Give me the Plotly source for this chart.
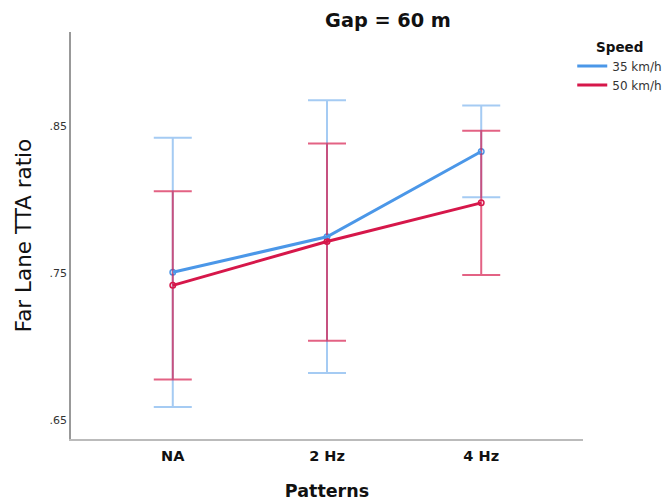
import plotly.graph_objects as go

categories = ["NA", "2 Hz", "4 Hz"]
speed_labels = ["35 km/h", "50 km/h"]

mean_35 = [0.7507, 0.7748, 0.8328]
upper_35 = [0.8421, 0.8677, 0.8641]
lower_35 = [0.6591, 0.6822, 0.8017]

mean_50 = [0.7418, 0.7716, 0.7979]
upper_50 = [0.8058, 0.8382, 0.8469]
lower_50 = [0.6777, 0.7042, 0.7489]

y_ticks = [0.65, 0.75, 0.85]
y_tick_text = [".65", ".75", ".85"]

blue = "#4B97E8"
red = "#D6174A"
FONT = "DejaVu Sans, Verdana, sans-serif"

fig = go.Figure()


def add_errors(mean, upper, lower, err_color, color):
    fig.add_trace(go.Scatter(
        x=categories, y=mean, mode="markers", showlegend=False, hoverinfo="skip",
        marker=dict(symbol="circle-open", size=5.5, color=color, line=dict(width=1.5)),
        error_y=dict(type="data", symmetric=False,
                     array=[u - m for u, m in zip(upper, mean)],
                     arrayminus=[m - l for m, l in zip(mean, lower)],
                     color=err_color, thickness=2, width=19),
    ))


def add_line(name, mean, color):
    fig.add_trace(go.Scatter(
        x=categories, y=mean, name=name, mode="lines",
        line=dict(color=color, width=3),
    ))


add_errors(mean_35, upper_35, lower_35, "rgba(75,151,232,0.5)", blue)
add_errors(mean_50, upper_50, lower_50, "rgba(214,23,74,0.68)", red)
add_line(speed_labels[0], mean_35, blue)
add_line(speed_labels[1], mean_50, red)

W, H = 664, 493
L, T, PW, PH = 63, 24, 512, 407

fig.update_layout(
    width=W, height=H,
    margin=dict(l=L, r=W - L - PW, t=T, b=H - T - PH, pad=0, autoexpand=False),
    plot_bgcolor="white", paper_bgcolor="white",
    font=dict(family=FONT, color="#222"),
    title=dict(text="<b>Gap = 60 m</b>", x=(380 - L) / PW, xref="paper",
               xanchor="center", y=1 - 12 / H, yanchor="middle",
               font=dict(size=19.3, color="#111", family=FONT)),
    legend=dict(
        title=dict(text="<b>Speed</b>", side="top center", font=dict(size=13.5, color="#111")),
        x=0.979, xanchor="left", y=0.995, yanchor="top",
        font=dict(size=12, color="#333"), tracegroupgap=0,
        bgcolor="rgba(0,0,0,0)", itemwidth=30,
    ),
    showlegend=True,
)

fig.update_xaxes(
    type="category", range=[-0.66, 2.66],
    showline=True, linecolor="#bbbbbb", linewidth=2,
    showgrid=False, zeroline=False, ticks="",
    tickfont=dict(size=14.5, color="#111", family=FONT),
    tickprefix="<b>", ticksuffix="</b>", ticklabelstandoff=3,
    title=dict(text="<b>Patterns</b>", font=dict(size=17.5, color="#111", family=FONT), standoff=22),
)
fig.update_yaxes(
    range=[0.6373, 0.9141],
    tickvals=y_ticks, ticktext=y_tick_text,
    showline=True, linecolor="#999999", linewidth=1.5,
    showgrid=False, zeroline=False, ticks="",
    tickfont=dict(size=11, color="#333", family=FONT),
    title=dict(text="Far Lane TTA ratio", font=dict(size=21.5, color="#111", family=FONT), standoff=12),
)

fig.write_html("out.html")
